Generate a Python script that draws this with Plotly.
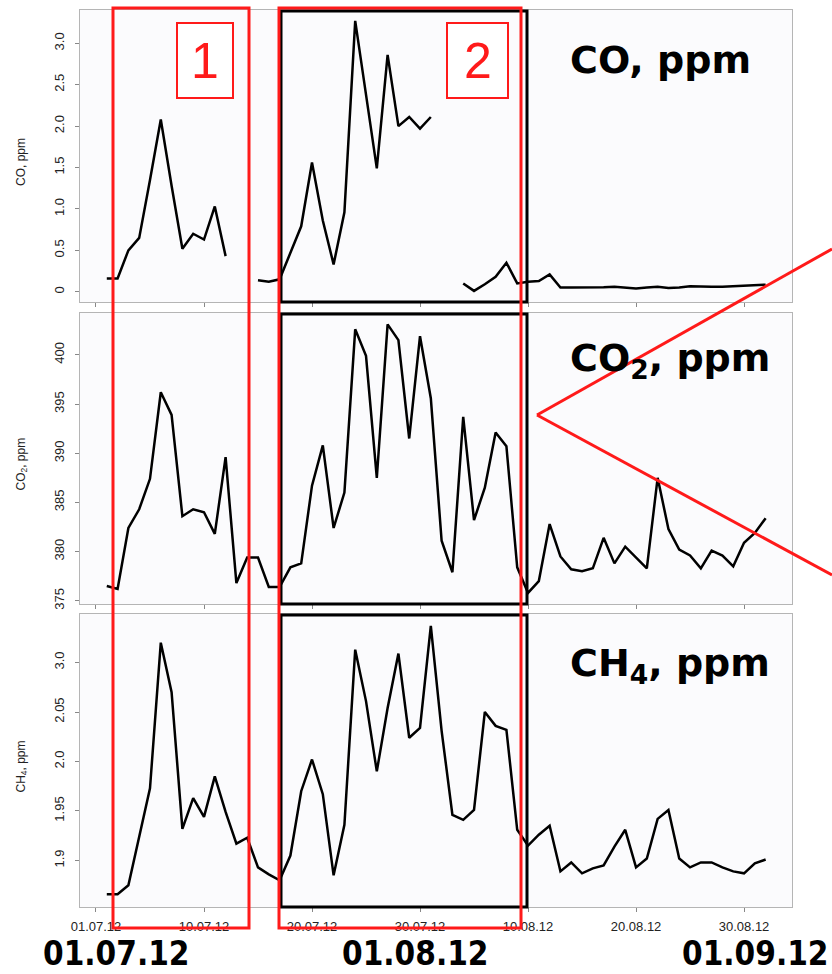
import plotly.graph_objects as go

# ---------------- data (daily index, 1..62) ----------------
days = list(range(1, 63))
tick_pos = [0, 10, 20, 30, 40, 50, 60]
tick_labels = ["01.07.12", "10.07.12", "20.07.12", "30.07.12", "10.08.12", "20.08.12", "30.08.12"]

co = [0.16, 0.16, 0.50, 0.65, 1.35, 2.08, 1.28, 0.52, 0.70, 0.63,
      1.03, 0.43, None, None, 0.14, 0.12, 0.15, 0.48, 0.79, 1.56,
      0.86, 0.33, 0.96, 3.27, 2.41, 1.49, 2.86, 2.00, 2.11, 1.97,
      2.11, None, None, 0.10, 0.01, 0.09, 0.18, 0.35, 0.10, 0.12,
      0.13, 0.21, 0.05, 0.05, 0.05, 0.05, 0.055, 0.06, 0.05, 0.04,
      0.05, 0.06, 0.045, 0.05, 0.065, 0.06, 0.06, 0.06, 0.065, 0.07,
      0.075, 0.085]

co2 = [376.5, 376.2, 382.4, 384.3, 387.4, 396.2, 393.9, 383.6, 384.3, 384.0,
       381.8, 389.6, 376.8, 379.4, 379.4, 376.4, 376.4, 378.4, 378.8, 386.7,
       390.8, 382.4, 386.0, 402.6, 399.9, 387.5, 403.1, 401.5, 391.5, 401.9,
       395.6, 381.1, 377.9, 393.7, 383.2, 386.5, 392.1, 390.7, 378.4, 375.8,
       377.0, 382.8, 379.5, 378.2, 378.0, 378.3, 381.4, 378.8, 380.5, 379.4,
       378.3, 387.5, 382.3, 380.2, 379.6, 378.3, 380.1, 379.6, 378.5, 380.9,
       381.9, 383.4]

ch4 = [1.866, 1.866, 1.875, 1.923, 1.973, 2.120, 2.070, 1.932, 1.963, 1.944,
       1.985, 1.949, 1.917, 1.923, 1.893, 1.886, 1.880, 1.905, 1.970, 2.002,
       1.967, 1.885, 1.936, 2.113, 2.061, 1.990, 2.054, 2.109, 2.024, 2.034,
       2.137, 2.031, 1.946, 1.941, 1.951, 2.050, 2.036, 2.032, 1.931, 1.915,
       1.926, 1.935, 1.889, 1.898, 1.887, 1.892, 1.895, 1.914, 1.931, 1.893,
       1.902, 1.942, 1.951, 1.902, 1.893, 1.898, 1.898, 1.893, 1.889, 1.887,
       1.897, 1.901]

co_ticks = [0, 0.5, 1.0, 1.5, 2.0, 2.5, 3.0]
co_ticktext = ["0", "0.5", "1.0", "1.5", "2.0", "2.5", "3.0"]
co2_ticks = [375, 380, 385, 390, 395, 400]
co2_ticktext = ["375", "380", "385", "390", "395", "400"]
ch4_ticks = [1.90, 1.95, 2.00, 2.05, 2.10]
ch4_ticktext = ["1.9", "1.95", "2.0", "2.05", "3.0"]

# ---------------- geometry helpers ----------------
W, H = 832, 974
L, R, T, B = 80, 792, 10, 907


def px(x):
    return (x - L) / (R - L)


def py(y):
    return (B - y) / (B - T)


panels = [(10, 302), (313, 604), (614, 907)]
domains = [[py(b), py(t)] for t, b in panels]

tick_font = dict(family="Liberation Sans Narrow, Arial Narrow, Liberation Sans, Arial", size=13, color="#222")
big_font = dict(family="DejaVu Sans", size=38, color="black")
date_font = dict(family="DejaVu Sans Condensed, DejaVu Sans", size=33, color="black")

fig = go.Figure()
series = [co, co2, ch4]
for k, s in enumerate(series):
    fig.add_trace(go.Scatter(
        x=days, y=s, mode="lines", connectgaps=False,
        line=dict(color="black", width=2.5),
        xaxis="x" if k == 0 else f"x{k+1}",
        yaxis="y" if k == 0 else f"y{k+1}",
        showlegend=False, hoverinfo="skip"))

axis_common = dict(showline=True, mirror=True, linecolor="#b5b5b5", linewidth=1,
                   showgrid=False, zeroline=False, ticks="outside", ticklen=4,
                   tickcolor="#888", tickfont=tick_font)

yranges = [[-0.124, 3.402], [374.67, 404.26], [1.853, 2.149]]
yticks = [(co_ticks, co_ticktext), (co2_ticks, co2_ticktext), (ch4_ticks, ch4_ticktext)]

layout = dict(width=W, height=H, autosize=False,
              margin=dict(l=L, r=W - R, t=T, b=H - B, pad=0),
              paper_bgcolor="white", plot_bgcolor="#fbfbfd",
              font=dict(family="Liberation Sans, Arial"))

for k in range(3):
    xn = "xaxis" if k == 0 else f"xaxis{k+1}"
    yn = "yaxis" if k == 0 else f"yaxis{k+1}"
    ya = "y" if k == 0 else f"y{k+1}"
    xa = "x" if k == 0 else f"x{k+1}"
    layout[xn] = dict(axis_common, domain=[0, 1], anchor=ya, range=[-1.48, 64.44],
                      tickmode="array", tickvals=tick_pos, ticktext=tick_labels,
                      showticklabels=(k == 2), ticklabelstandoff=3)
    layout[yn] = dict(axis_common, domain=domains[k], anchor=xa, range=yranges[k],
                      tickmode="array", tickvals=yticks[k][0], ticktext=yticks[k][1],
                      tickangle=-90, ticklabelstandoff=6)

fig.update_layout(**layout)

shapes = []
annotations = []

# black boxes inside each panel
for t, b in panels:
    shapes.append(dict(type="rect", xref="paper", yref="paper",
                       x0=px(281), x1=px(527), y0=py(b), y1=py(t + 1),
                       line=dict(color="black", width=3)))

# red highlight boxes
for x0, x1 in [(113, 249), (279, 521)]:
    shapes.append(dict(type="rect", xref="paper", yref="paper",
                       x0=px(x0), x1=px(x1), y0=py(928), y1=py(8),
                       line=dict(color="#ff1a1a", width=3)))

# numbered red label boxes
for (x0, x1), lab in [((177, 233), "1"), ((447, 508), "2")]:
    shapes.append(dict(type="rect", xref="paper", yref="paper",
                       x0=px(x0), x1=px(x1), y0=py(98), y1=py(23),
                       line=dict(color="#ff1a1a", width=2), fillcolor="white"))
    annotations.append(dict(xref="paper", yref="paper", x=px((x0 + x1) / 2), y=py(61),
                            text=lab, showarrow=False, xanchor="center", yanchor="middle",
                            font=dict(family="Liberation Sans, Arial", size=50, color="#ff1a1a")))

# red callout lines
for (xa0, ya0), (xa1, ya1) in [((832, 249), (537, 415)), ((537, 415), (832, 575))]:
    shapes.append(dict(type="line", xref="paper", yref="paper",
                       x0=px(xa0), y0=py(ya0), x1=px(xa1), y1=py(ya1),
                       line=dict(color="#ff1a1a", width=3)))

# big species labels
for text, y in [("<b>CO, ppm</b>", 60), ("<b>CO<sub>2</sub>, ppm</b>", 361), ("<b>CH<sub>4</sub>, ppm</b>", 665)]:
    annotations.append(dict(xref="paper", yref="paper", x=px(568), y=py(y), text=text,
                            showarrow=False, xanchor="left", yanchor="middle", font=big_font))

# y-axis titles
for text, (t, b) in zip(["CO, ppm", "CO<sub>2</sub>, ppm", "CH<sub>4</sub>, ppm"], panels):
    annotations.append(dict(xref="paper", yref="paper", x=px(21), y=py((t + b) / 2 + 6),
                            text=text, textangle=-90, showarrow=False,
                            xanchor="center", yanchor="middle",
                            font=dict(family="Liberation Sans Narrow, Arial Narrow, Liberation Sans, Arial",
                                      size=12, color="#222")))

# big date labels
for text, xpos, anchor in [("<b>01.07.12</b>", 116, "center"), ("<b>01.08.12</b>", 415, "center"),
                           ("<b>01.09.12</b>", 831, "right")]:
    annotations.append(dict(xref="paper", yref="paper", x=px(xpos), y=py(954), text=text,
                            showarrow=False, xanchor=anchor, yanchor="middle", font=date_font))

fig.update_layout(shapes=shapes, annotations=annotations)

fig.write_html("out.html", config={"displayModeBar": False},
               post_script="document.body.style.margin='0';")
